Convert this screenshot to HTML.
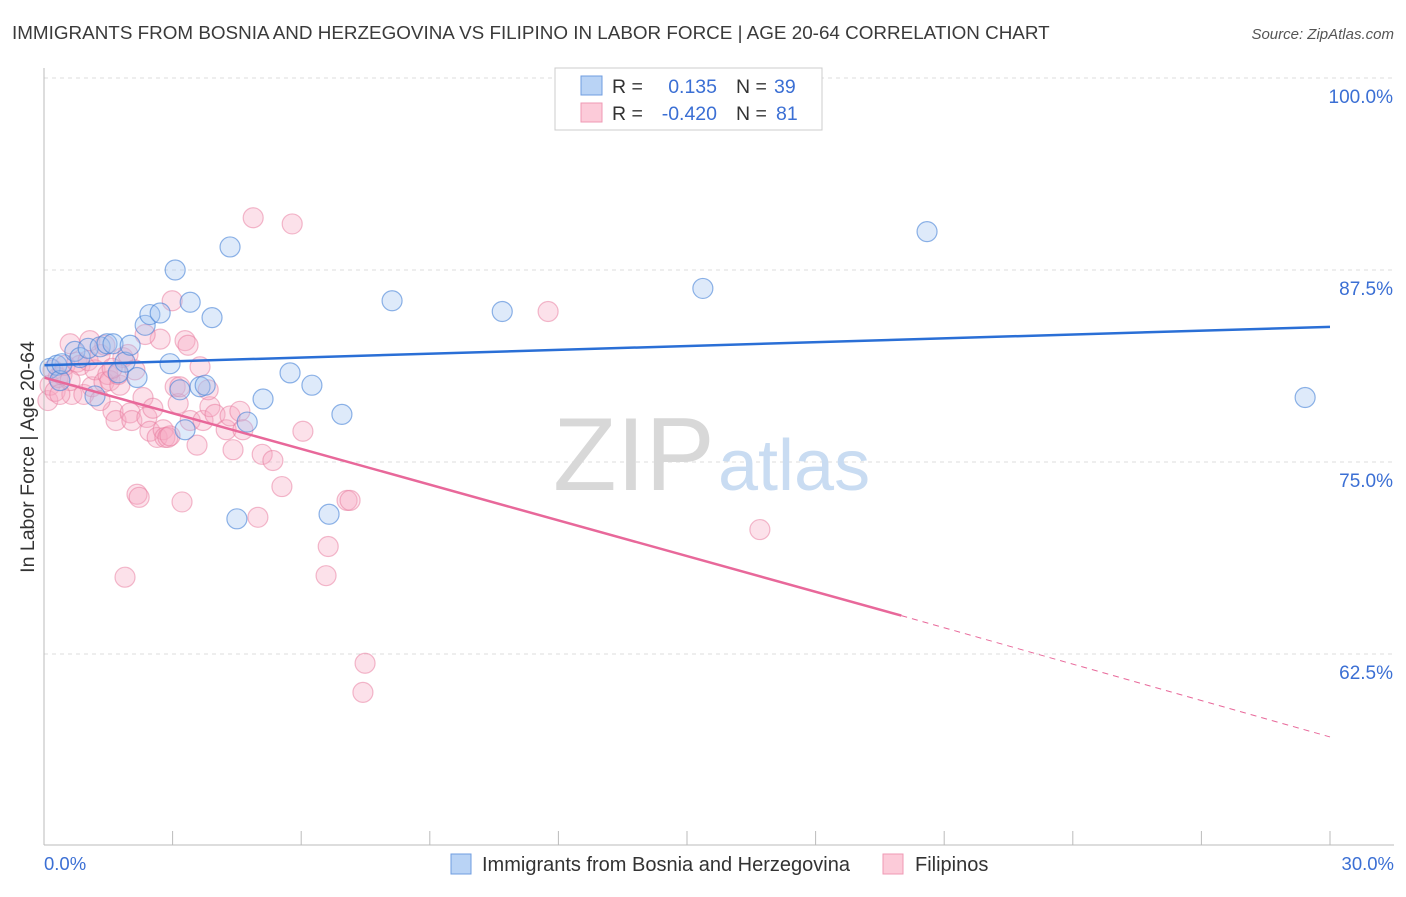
<!DOCTYPE html>
<html><head><meta charset="utf-8"><style>
body{margin:0;background:#fff;font-family:"Liberation Sans",sans-serif}
svg text{font-family:"Liberation Sans",sans-serif}
</style></head><body>
<svg id="chart" width="1406" height="892" viewBox="0 0 1406 892" xmlns="http://www.w3.org/2000/svg">
<text x="12" y="39" font-size="18.85" fill="#3a3a3a">IMMIGRANTS FROM BOSNIA AND HERZEGOVINA VS FILIPINO IN LABOR FORCE | AGE 20-64 CORRELATION CHART</text>
<text x="1394" y="39" font-size="15" fill="#555" font-style="italic" text-anchor="end">Source: ZipAtlas.com</text>
<g id="grid"></g>
<g>
<text x="553" y="490" font-size="104" fill="#d8d8d8" font-family="Liberation Serif, serif">ZIP</text>
<text x="718" y="490" font-size="72" fill="#c9dcf2">atlas</text>
</g>
<g id="points"></g>
<g id="lines"></g>
<line x1="44" y1="68" x2="44" y2="845" stroke="#bbb"/>
<line x1="44" y1="845" x2="1394" y2="845" stroke="#bbb"/>
<text transform="translate(34,457) rotate(-90)" font-size="19.5" fill="#333" text-anchor="middle">In Labor Force | Age 20-64</text>
<text x="44" y="870" font-size="18.5" fill="#3b6fd4">0.0%</text>
<text x="1394" y="870" font-size="18.5" fill="#3b6fd4" text-anchor="end">30.0%</text>
<g>
<rect x="555" y="68" width="267" height="62" fill="#fff" stroke="#ccc"/>
<rect x="581" y="76" width="21" height="19" fill="#b9d3f5" stroke="#6f9de0"/>
<rect x="581" y="103" width="21" height="19" fill="#fccbd9" stroke="#ef9ab4"/>
<text x="612" y="93" font-size="19.5" fill="#333">R =</text>
<text x="717" y="93" font-size="19.5" fill="#3b6fd4" text-anchor="end">0.135</text>
<text x="736" y="93" font-size="19.5" fill="#333">N =</text>
<text x="774" y="93" font-size="19.5" fill="#3b6fd4">39</text>
<text x="612" y="120" font-size="19.5" fill="#333">R =</text>
<text x="717" y="120" font-size="19.5" fill="#3b6fd4" text-anchor="end">-0.420</text>
<text x="736" y="120" font-size="19.5" fill="#333">N =</text>
<text x="776" y="120" font-size="19.5" fill="#3b6fd4">81</text>
</g>
<g>
<rect x="451" y="854" width="20" height="20" fill="#b9d3f5" stroke="#6f9de0"/>
<text x="482" y="871" font-size="20" fill="#333">Immigrants from Bosnia and Herzegovina</text>
<rect x="883" y="854" width="20" height="20" fill="#fccbd9" stroke="#ef9ab4"/>
<text x="915" y="871" font-size="20" fill="#333">Filipinos</text>
</g>
</svg>
<script>
const yTicks=[100,87.5,75,62.5];
const yTickLabels=["100.0%","87.5%","75.0%","62.5%"];
const blueX=[0.14,0.30,0.37,0.42,0.72,0.84,1.03,1.19,1.31,1.47,1.61,1.73,1.89,2.01,2.17,2.36,2.47,2.71,2.94,3.06,3.17,3.29,3.41,3.64,3.76,3.92,4.34,4.50,4.74,5.11,5.74,6.25,6.65,6.95,8.12,10.69,15.37,20.60,29.42];
const blueY=[81.1,81.3,80.3,81.4,82.2,81.8,82.4,79.3,82.5,82.7,82.7,80.8,81.5,82.6,80.5,83.9,84.6,84.7,81.4,87.5,79.7,77.1,85.4,79.9,80.0,84.4,89.0,71.3,77.6,79.1,80.8,80.0,71.6,78.1,85.5,84.8,86.3,90.0,79.2];
const pinkX=[0.09,0.14,0.21,0.26,0.33,0.42,0.49,0.61,0.65,0.77,0.84,0.93,1.03,1.12,1.19,1.31,1.40,1.49,1.54,1.61,1.68,1.77,1.84,1.89,1.96,2.01,2.05,2.17,2.22,2.31,2.40,2.47,2.54,2.64,2.71,2.78,2.82,2.89,2.94,2.99,3.06,3.13,3.17,3.22,3.29,3.36,3.41,3.57,3.64,3.71,3.87,3.99,4.25,4.34,4.41,4.57,4.64,4.88,4.99,5.09,5.34,5.55,5.79,6.04,6.58,6.63,7.07,7.14,7.49,7.44,11.76,16.70,0.61,1.07,1.42,1.73,2.12,2.36,1.59,3.83,1.31,0.37];
const pinkY=[79.0,80.0,81.0,79.6,80.5,80.7,81.3,82.7,79.4,81.5,81.3,79.4,81.6,79.9,81.0,82.0,80.2,80.7,80.3,78.3,77.7,80.0,81.8,67.5,82.0,78.2,77.7,72.9,72.7,79.2,77.9,77.0,78.5,76.6,83.0,77.1,76.6,76.6,76.7,85.5,79.9,78.8,79.9,72.4,82.9,82.6,77.7,76.1,81.2,77.7,78.6,78.1,77.1,78.0,75.8,78.3,77.1,90.9,71.4,75.5,75.1,73.4,90.5,77.0,67.6,69.5,72.5,72.5,61.9,60.0,84.8,70.6,80.3,82.9,82.6,80.7,81.0,83.3,81.1,79.7,79.0,79.4];
const blueTrend=[81.3,83.8];
const pinkTrend=[80.5,65.0,57.1];
const pinkTrendX=[0,20,30];
const NS="http://www.w3.org/2000/svg";
const sx=v=>44+v/30*1286;
const sy=v=>78+(100-v)/12.5*192;
function mk(tag,attrs,parent){const e=document.createElementNS(NS,tag);for(const k in attrs)e.setAttribute(k,attrs[k]);parent.appendChild(e);return e;}
const grid=document.getElementById('grid');
yTicks.forEach((t,i)=>{
  const l=mk('line',{x1:44,x2:1394,y1:sy(t),y2:sy(t),stroke:'#ddd','stroke-dasharray':'4,4'},grid);
  
  
  const tx=mk('text',{x:1393,y:sy(t)+25,'font-size':19,fill:'#3b6fd4','text-anchor':'end'},grid);
  tx.textContent=yTickLabels[i];
  
  
});
for(let k=1;k<=10;k++){
  const t=mk('line',{x1:sx(k*3),x2:sx(k*3),y1:831,y2:845,stroke:'#bbb'},grid);
  
  
}
const pts=document.getElementById('points');
pinkX.forEach((x,i)=>{
  const c=mk('circle',{cx:sx(x),cy:sy(pinkY[i]),r:10,fill:'rgba(246,170,195,0.35)',stroke:'rgba(232,120,155,0.5)','stroke-width':1.2},pts);
  
  
});
blueX.forEach((x,i)=>{
  const c=mk('circle',{cx:sx(x),cy:sy(blueY[i]),r:10,fill:'rgba(160,195,240,0.35)',stroke:'rgba(70,130,215,0.6)','stroke-width':1.2},pts);
  
  
});
const lines=document.getElementById('lines');
const bl=mk('line',{x1:sx(0),y1:sy(blueTrend[0]),x2:sx(30),y2:sy(blueTrend[1]),stroke:'#2a6fd6','stroke-width':2.5},lines);


const pl=mk('line',{x1:sx(pinkTrendX[0]),y1:sy(pinkTrend[0]),x2:sx(pinkTrendX[1]),y2:sy(pinkTrend[1]),stroke:'#e8689a','stroke-width':2.5},lines);


const pd=mk('line',{x1:sx(pinkTrendX[1]),y1:sy(pinkTrend[1]),x2:sx(pinkTrendX[2]),y2:sy(pinkTrend[2]),stroke:'#e8689a','stroke-width':1,'stroke-dasharray':'6,5'},lines);


</script>
</body></html>
